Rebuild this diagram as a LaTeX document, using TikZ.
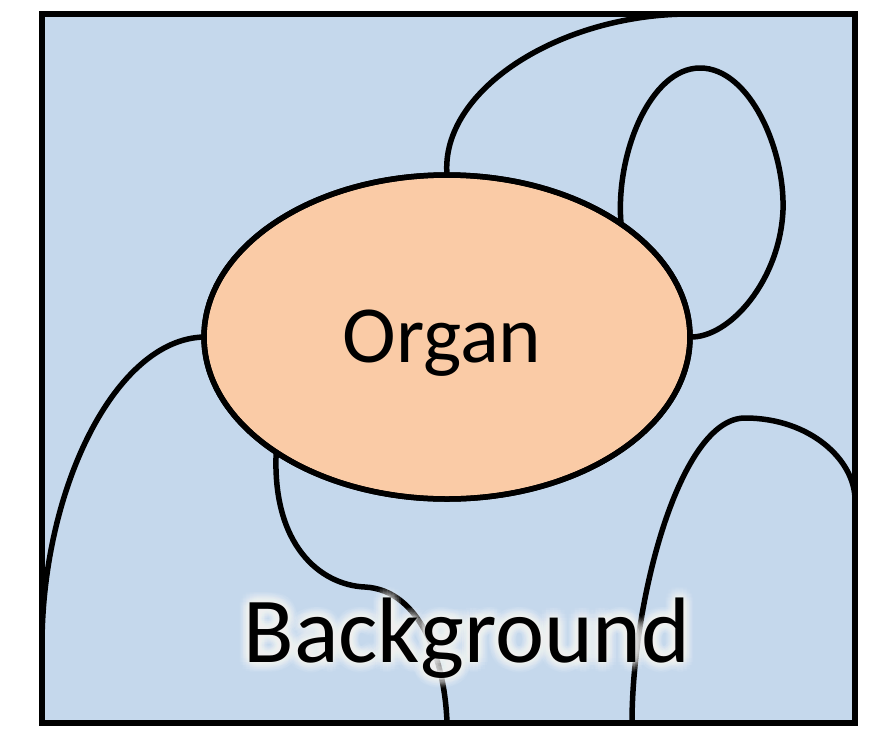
\documentclass[tikz,border=0pt]{standalone}
\usepackage{fontspec}
\setmainfont{Carlito}
\usetikzlibrary{shapes.geometric}
\definecolor{bgblue}{HTML}{C5D8EC}
\definecolor{organfill}{HTML}{FACBA6}
\begin{document}
\begin{tikzpicture}[x=1pt,y=-1pt,
    outline/.style={line width=5.5pt,black},
    boundary/.style={outline,line cap=round},
    bigtext/.style={anchor=base,font=\fontsize{93}{100}\selectfont},
    glowtext/.style={bigtext,text=white,text opacity=0.06}]
  \useasboundingbox (0,0) rectangle (891,737);

  % frame corners and the points where the region boundaries meet it
  \coordinate (tl) at (42,14);
  \coordinate (br) at (855,723);
  \coordinate (topend) at (690,14);
  \coordinate (leftend) at (42,645);
  \coordinate (bottomA) at (447,723);
  \coordinate (bottomB) at (632,723);
  \coordinate (rightend) at (855,500);
  \coordinate (bglabelpos) at (467,662);

  \fill[bgblue] (tl) rectangle (br);

  % the organ
  \node[ellipse,draw,outline,fill=organfill,minimum width=486pt,
        minimum height=324pt,inner sep=0pt,outer sep=0pt] (organ) at (447,337) {};

  % boundaries between background regions
  \draw[boundary] (organ.north) .. controls (440,90) and (560,14) .. (topend);
  \draw[boundary] (organ.33.6) .. controls (615,155) and (650,68) .. (700,68)
        .. controls (750,68) and (785,150) .. (783,210)
        .. controls (780,280) and (730,338) .. (organ.east);
  \draw[boundary] (organ.west) .. controls (115,339) and (42,490) .. (leftend);
  \draw[boundary] (organ.214.6) .. controls (272,545) and (320,585) .. (365,587)
        .. controls (420,590) and (445,660) .. (bottomA);
  \draw[boundary] (bottomB) .. controls (632,600) and (680,418) .. (745,418)
        .. controls (810,418) and (855,460) .. (rightend);

  % redraw the ellipse outline on top of the boundary ends
  \draw[outline] (organ.center) ellipse [x radius=243, y radius=162];

  \draw[outline] (tl) rectangle (br);

  \node[anchor=base,font=\fontsize{81}{90}\selectfont] (organlabel) at (442,362) {Organ};

  % soft white halo behind the label
  \foreach \r in {2,4,6,8,10}{
    \foreach \a [count=\k] in {0,22.5,...,337.5}{
      \node[glowtext] (glow-\r-\k) at ([shift={(\a:\r)}]bglabelpos) {Background};
    }
  }
  \node[bigtext] (bglabel) at (bglabelpos) {Background};
\end{tikzpicture}
\end{document}
